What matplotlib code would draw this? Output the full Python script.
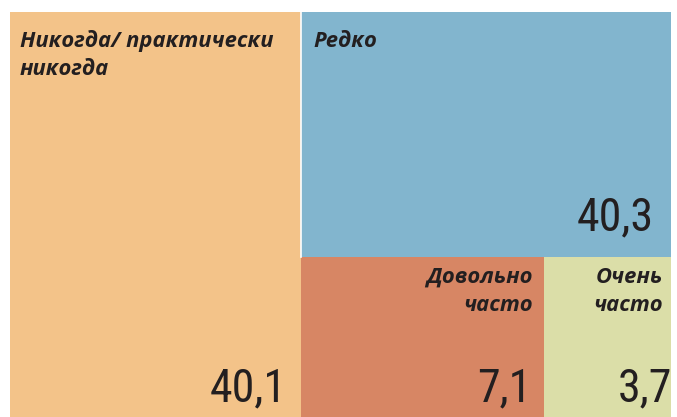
import matplotlib.pyplot as plt
from matplotlib.patches import Rectangle
from matplotlib import font_manager

labels = ["Никогда/ практически\nникогда", "Редко", "Довольно\nчасто", "Очень\nчасто"]
values = [40.1, 40.3, 7.1, 3.7]
value_text = ["40,1", "40,3", "7,1", "3,7"]
colors = ["#F3C389", "#82B5CE", "#D78664", "#DBDEA8"]

names = {f.name for f in font_manager.fontManager.ttflist}
num_font = "Roboto"
for cand in ["Roboto Condensed", "Liberation Sans Narrow", "Open Sans Condensed"]:
    if cand in names:
        num_font = cand
        break

fig = plt.figure(figsize=(6.77, 4.17), dpi=100)
ax = fig.add_axes([0, 0, 1, 1])
ax.set_xlim(0, 677)
ax.set_ylim(417, 0)
ax.axis("off")

# plot area in pixels
x0, x1, y0, y1 = 10, 671, 12, 417
total = sum(values)
w_left = (x1 - x0) * values[0] / total
xl = x0 + w_left
w_right = x1 - xl
split = y0 + (y1 - y0) * 0.605  # top/bottom split in right column
small = values[2] + values[3]
xm = xl + w_right * values[2] / small

rects = [
    (x0, y0, w_left, y1 - y0),
    (xl, y0, w_right, split - y0),
    (xl, split, xm - xl, y1 - split),
    (xm, split, x1 - xm, y1 - split),
]
for (rx, ry, rw, rh), c in zip(rects, colors):
    ax.add_patch(Rectangle((rx, ry), rw, rh, facecolor=c, edgecolor="none"))
# thin white gap between left block and blue block
ax.plot([xl, xl], [y0, split], color="white", lw=1.2)

lab_kw = dict(fontfamily="Open Sans", fontweight="bold", fontstyle="italic",
              fontsize=15.8, color="#231F20", linespacing=1.45)
num_kw = dict(fontfamily=num_font, fontweight="normal", fontsize=33, color="#231F20")

# category labels
ax.text(x0 + 10, y0 + 18, labels[0], ha="left", va="top", **lab_kw)
ax.text(xl + 13, y0 + 19, labels[1], ha="left", va="top", **lab_kw)
ax.text(xm - 11, split + 10, labels[2], ha="right", va="top", **lab_kw)
ax.text(x1 - 8, split + 10, labels[3], ha="right", va="top", **lab_kw)

# values
ax.text(xl - 14, y1 - 16, value_text[0], ha="right", va="baseline", **num_kw)
ax.text(x1 - 17, split - 27, value_text[1], ha="right", va="baseline", **num_kw)
ax.text(xm - 13, y1 - 16, value_text[2], ha="right", va="baseline", **num_kw)
ax.text(x1 + 1, y1 - 16, value_text[3], ha="right", va="baseline", **num_kw)

fig.savefig("out.png", dpi=100)
